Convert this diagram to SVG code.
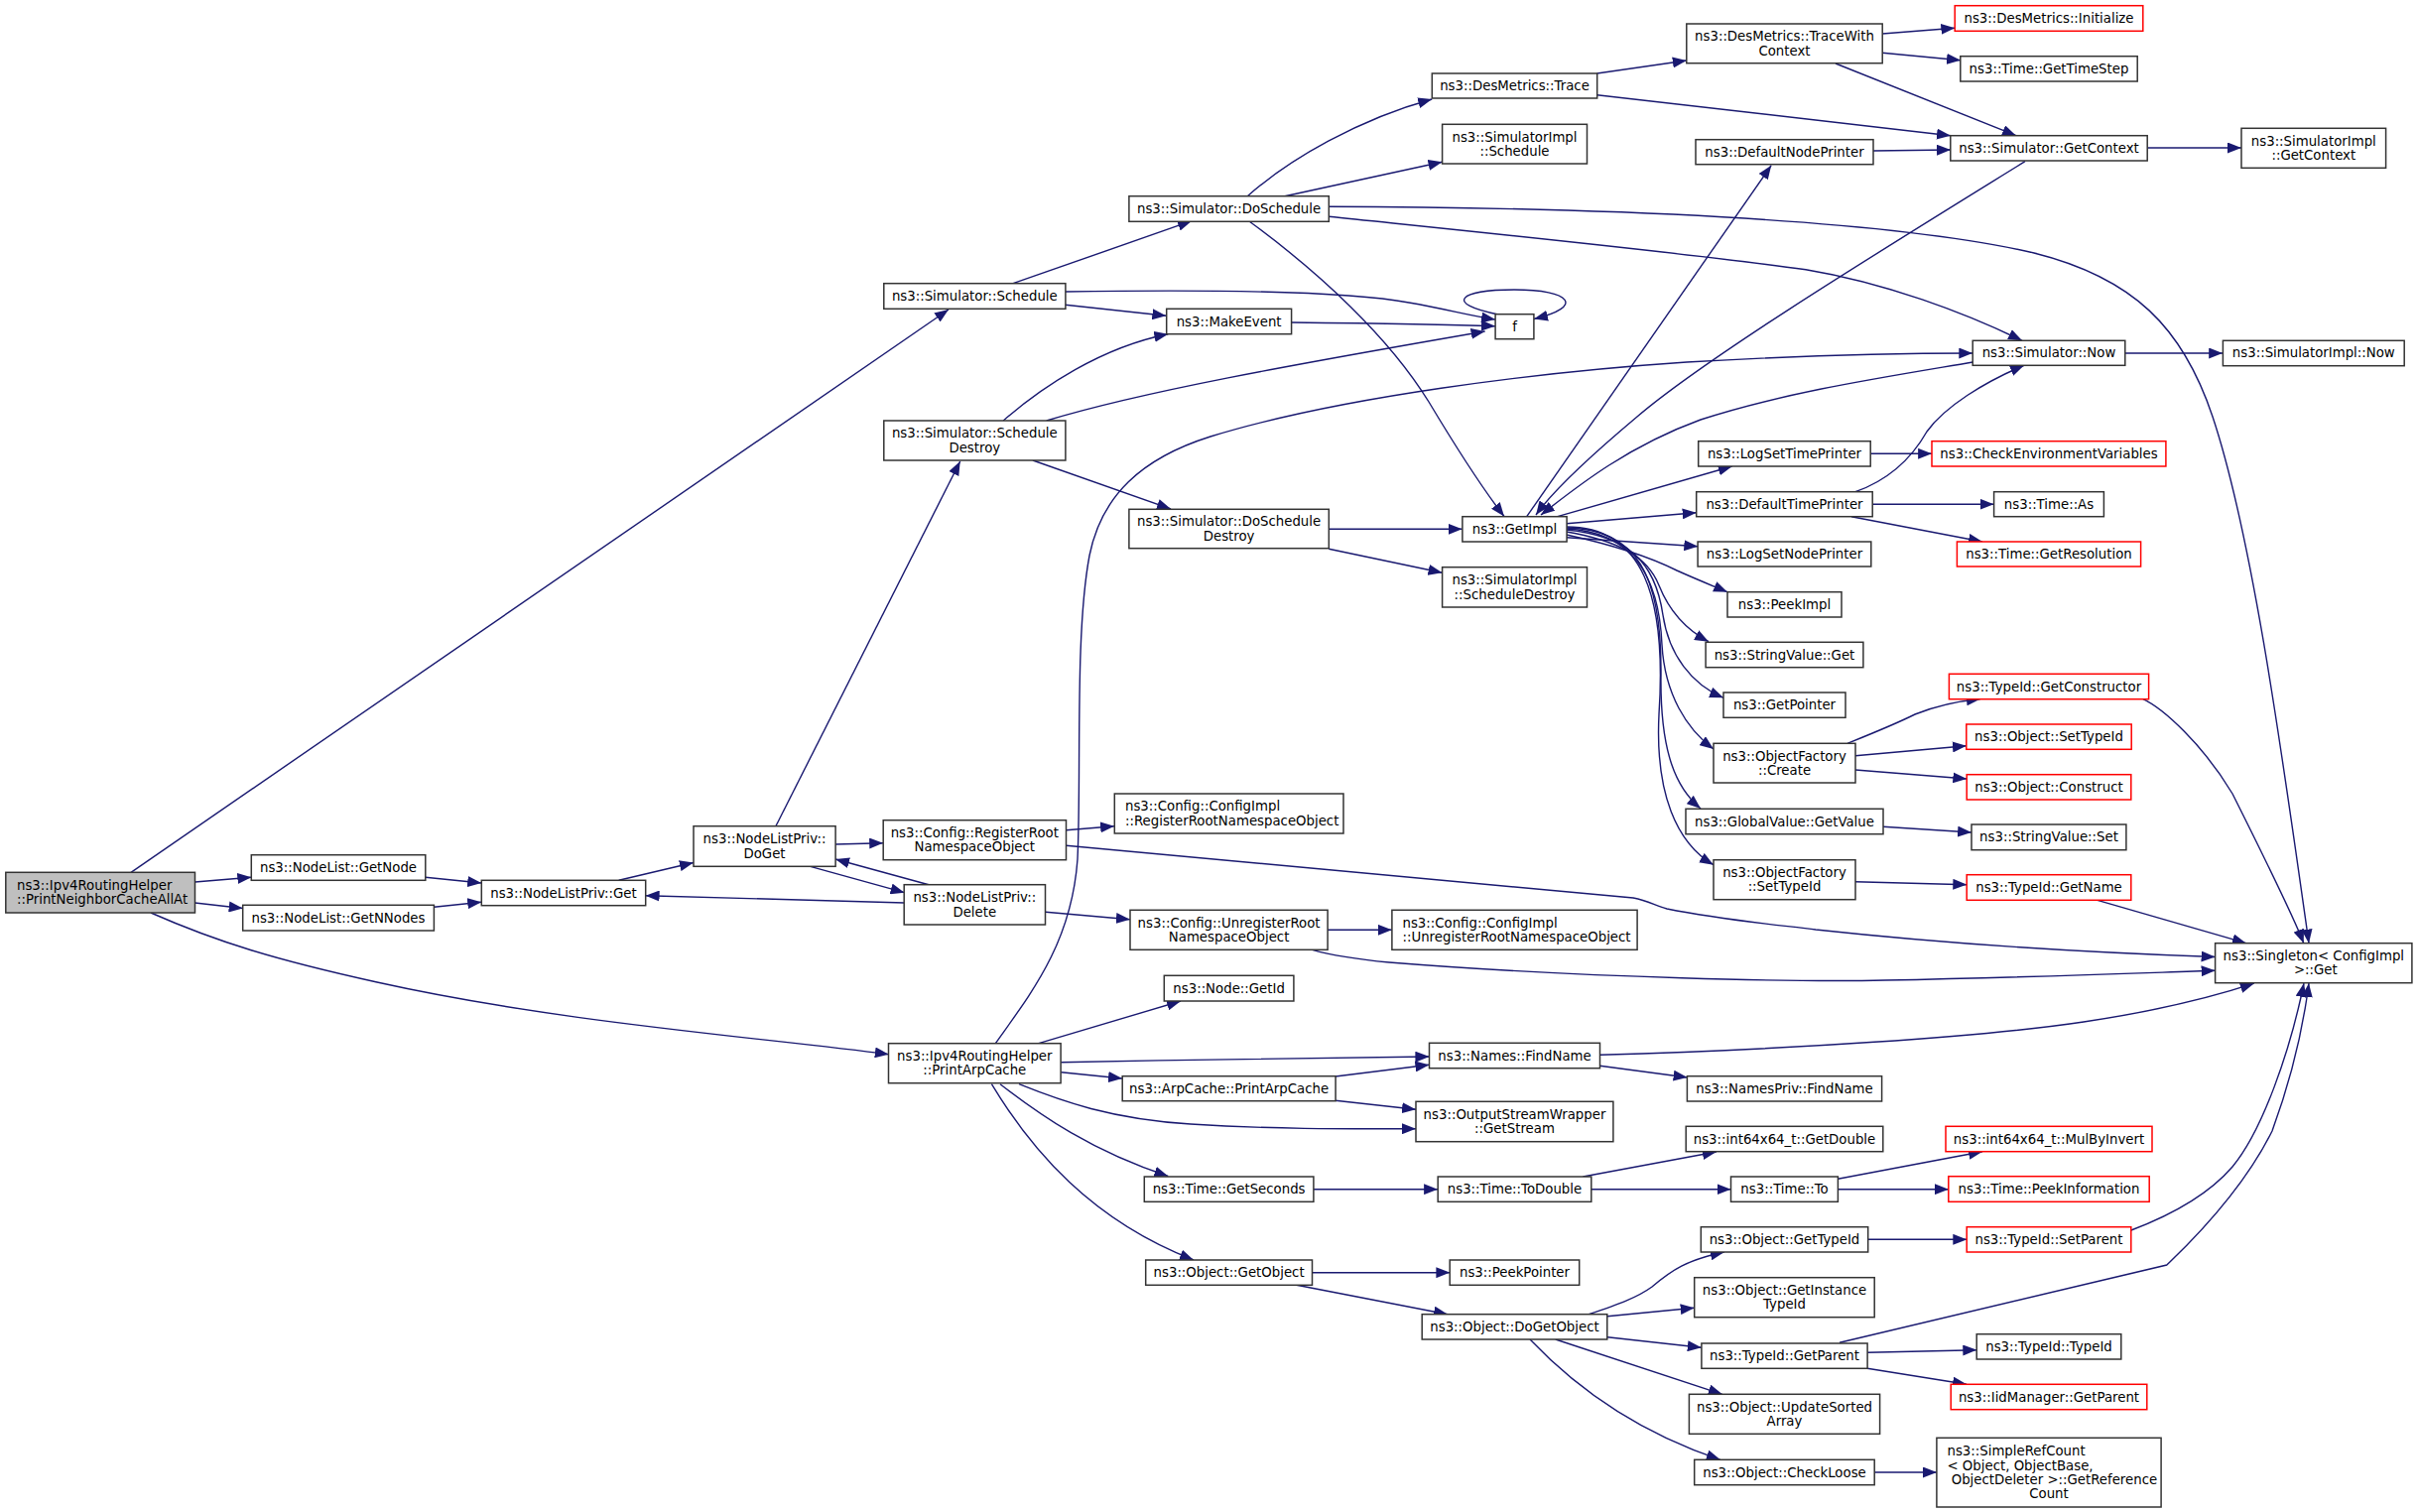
<svg xmlns="http://www.w3.org/2000/svg" width="2437" height="1524" viewBox="0 0 2437 1524">
<defs>
<marker id="a" markerUnits="userSpaceOnUse" viewBox="0 0 14 11" markerWidth="14" markerHeight="11" refX="14" refY="5.5" orient="auto">
<path d="M0,0 L14,5.5 L0,11 z" fill="#191970"/>
</marker>
<style>
rect{fill:#fff;stroke:#333;stroke-width:1.5}
.r rect{stroke:#f00}
.main rect{fill:#bfbfbf}
text{font-family:"DejaVu Sans",sans-serif;font-size:13.3px;fill:#000;text-anchor:middle}
text.l{text-anchor:start}
#edges path{fill:none;stroke:#191970;stroke-width:1.4;marker-end:url(#a)}
</style>
</defs>
<rect x="0" y="0" width="2437" height="1524" style="fill:#fff;stroke:none"/>
<g id="edges">
<path d="M132,879.3 L956,312"/>
<path d="M196.5,889 L253.3,884.3"/>
<path d="M196.5,910 L244.7,915.5"/>
<path d="M152,920 C220,950 280,968 380,990 C560,1030 760,1045 895.8,1062.7"/>
<path d="M428.8,884.3 L485.2,890"/>
<path d="M437.4,914.3 L485.2,909.3"/>
<path d="M623.7,887.3 L698.9,869.5"/>
<path d="M781.9,832.7 L967.7,465"/>
<path d="M842,851 L890.2,849.7"/>
<path d="M816.7,873.3 L911.6,899.7"/>
<path d="M936,891.7 L842,866"/>
<path d="M911.6,910 L650.6,902.7"/>
<path d="M1053.9,919.3 L1138.9,926.7"/>
<path d="M1074.5,836.7 L1123.1,832.7"/>
<path d="M1074.5,852.3 L1646,905 C1662,908 1668,913 1680,916 C1740,928 1800,933 1830,937 C1950,950 2100,960 2232.6,964.5"/>
<path d="M1338,937.3 L1402.8,937.3"/>
<path d="M1322.6,957.3 C1350,965 1380,968 1400,970 C1600,986 1820,990 1900,988 C2050,985 2150,981 2232.6,978.3"/>
<path d="M1003.3,1051.7 C1040,1000 1080,950 1086,866 C1090,780 1083,640 1098,560 C1110,500 1150,462 1220,440 C1350,400 1550,375 1700,365 C1820,358 1900,356 1988.3,356"/>
<path d="M1046.8,1051.7 L1190,1009"/>
<path d="M1069.4,1070.7 C1200,1068 1350,1066 1440.4,1065"/>
<path d="M1069.4,1080.7 L1131,1087"/>
<path d="M1027,1092.7 C1070,1110 1120,1128 1200,1133 C1280,1138 1350,1138 1427,1137.7"/>
<path d="M1008,1092.7 C1050,1125 1100,1160 1177.3,1185.5"/>
<path d="M999.4,1092.7 C1040,1160 1100,1230 1203,1270"/>
<path d="M1345.9,1085 L1440.4,1073.3"/>
<path d="M1345.9,1109.3 L1427,1118.3"/>
<path d="M1612.4,1074.3 L1700.6,1086"/>
<path d="M1612.4,1063.3 C1800,1058 2000,1045 2100,1030 C2180,1018 2230,1005 2271.8,991.2"/>
<path d="M1323.8,1198.7 L1449.1,1198.7"/>
<path d="M1595.4,1186 L1729.8,1161"/>
<path d="M1603.7,1198.7 L1744.5,1198.7"/>
<path d="M1852.4,1188.3 L1998,1160.7"/>
<path d="M1852.4,1198.7 L1963.9,1198.7"/>
<path d="M1322.6,1282.7 L1461.4,1282.7"/>
<path d="M1306.8,1295.3 L1459,1324.7"/>
<path d="M1601.3,1324.7 C1630,1315 1650,1308 1665,1297 C1685,1280 1700,1270 1737.8,1262"/>
<path d="M1620,1326.7 L1707.7,1318.3"/>
<path d="M1620,1347.7 L1714.8,1358.3"/>
<path d="M1567.7,1350 L1735.8,1405.3"/>
<path d="M1542,1350 C1580,1390 1640,1440 1733.8,1471.3"/>
<path d="M1882.8,1249.3 L1982.3,1249.3"/>
<path d="M2147.9,1240 C2185,1226 2225,1205 2250,1176 C2280,1140 2308,1060 2322,991"/>
<path d="M1854,1353.3 L2183.8,1275 C2210,1250 2260,1200 2290,1140 C2312,1080 2322,1030 2327,991"/>
<path d="M1882,1363.3 L1992.3,1360.7"/>
<path d="M1882,1379.3 L1982,1395.3"/>
<path d="M1889.2,1484 L1952,1484"/>
<path d="M1021,285.7 L1201,222.7"/>
<path d="M1073.7,294 C1200,292 1350,292 1420,305 C1460,312 1480,318 1507,322"/>
<path d="M1073.7,307.3 L1175.3,318.3"/>
<path d="M1301.2,325 C1400,326 1460,327 1507,328.7"/>
<path d="M1510,317 C1455,306 1470,292 1526.5,292 C1583,292 1598,309 1546,321.5"/>
<path d="M1011.2,424 C1050,390 1110,350 1177.3,336.7"/>
<path d="M1054.7,424 C1150,395 1300,368 1496.6,334"/>
<path d="M1040.9,464 L1180,513"/>
<path d="M1257.3,197.7 C1300,160 1370,120 1443.2,100"/>
<path d="M1294.9,197.7 L1453.5,163.3"/>
<path d="M1339.2,208.3 C1600,209 1900,220 2050,255 C2150,280 2200,330 2230,420 C2270,540 2300,760 2327,950.7"/>
<path d="M1339.2,218.3 C1500,235 1700,255 1820,271.7 C1900,285 1980,315 2038,343.3"/>
<path d="M1259.3,223.3 C1330,275 1400,340 1440,405 C1470,455 1500,500 1516,520.5"/>
<path d="M1609.6,74 L1699.8,61"/>
<path d="M1609.6,95.7 L1966,136.7"/>
<path d="M1897.2,34 L1970.3,28.3"/>
<path d="M1897.2,53.3 L1976,60.7"/>
<path d="M1850,64 L2032,136.7"/>
<path d="M1888,152 L1966,151"/>
<path d="M2164.3,149 L2259,149"/>
<path d="M2041,162.7 C1900,250 1720,360 1650,420 C1600,462 1565,495 1548,519"/>
<path d="M1988.3,365 C1900,380 1800,395 1714,423 C1640,450 1590,490 1553,519"/>
<path d="M1538.7,520.7 L1785.2,166.7"/>
<path d="M1569.7,520.7 L1745.7,470"/>
<path d="M1578.8,527.7 L1709.7,516.7"/>
<path d="M1578.8,541.7 L1711.3,550.7"/>
<path d="M1578.8,539 C1620,548 1660,560 1690,575 C1710,584 1725,590 1741,596.7"/>
<path d="M1578.8,536 C1630,545 1660,560 1672,590 C1682,615 1700,635 1722,646.7"/>
<path d="M1578.8,534 C1640,540 1668,565 1676,620 C1682,660 1705,690 1737,703.3"/>
<path d="M1578.8,533 C1645,536 1672,580 1675,650 C1678,700 1700,735 1727,755"/>
<path d="M1578.8,532 C1650,533 1675,580 1674,680 C1673,760 1690,795 1714,815"/>
<path d="M1578.8,531 C1655,531 1680,600 1672,720 C1668,800 1690,850 1727,871.7"/>
<path d="M1339.2,533.3 L1473.6,533.3"/>
<path d="M1339.2,553.3 L1453.5,577.3"/>
<path d="M2141.9,356 L2240.2,356"/>
<path d="M1885.2,457.3 L1947.1,457.3"/>
<path d="M1870,495.7 C1900,485 1925,465 1942,435 C1960,410 2000,385 2040,368.3"/>
<path d="M1887.2,508.2 L2009.5,508.2"/>
<path d="M1866,520.7 L1998,546"/>
<path d="M1862,749.3 C1890,738 1910,730 1930,720 C1950,712 1970,707 1996,704.5"/>
<path d="M1870,761.7 L1981.9,751.7"/>
<path d="M1870,776 L1982.3,785"/>
<path d="M2159.9,704.7 C2180,714 2220,750 2250,800 C2280,860 2310,920 2321.8,950.7"/>
<path d="M1898,833.3 L1987.1,839"/>
<path d="M1870,888.7 L1982.3,891.7"/>
<path d="M2113.9,907.3 L2263.8,950.7"/>
</g>
<g id="n_main" class="main"><rect x="5.8" y="879.3" width="190.7" height="40.7"/><text class="l" x="17" y="897">ns3::Ipv4RoutingHelper</text><text class="l" x="17" y="911.3">::PrintNeighborCacheAllAt</text></g>
<g id="n_getnode"><rect x="253.3" y="861.7" width="175.5" height="25.6"/><text x="341" y="879">ns3::NodeList::GetNode</text></g>
<g id="n_getnnodes"><rect x="244.7" y="912.3" width="192.7" height="25.7"/><text x="341" y="929.6">ns3::NodeList::GetNNodes</text></g>
<g id="n_nlpget"><rect x="485.3" y="887.3" width="165.4" height="25.4"/><text x="568" y="904.5">ns3::NodeListPriv::Get</text></g>
<g id="n_doget"><rect x="699" y="832.7" width="143.1" height="40.6"/><text x="770.5" y="850.4">ns3::NodeListPriv::</text><text x="770.5" y="864.7">DoGet</text></g>
<g id="n_schedule"><rect x="890.8" y="285.7" width="183.1" height="25.6"/><text x="982.3" y="303">ns3::Simulator::Schedule</text></g>
<g id="n_scheddestroy"><rect x="890.8" y="424" width="183.1" height="40"/><text x="982.3" y="441.4">ns3::Simulator::Schedule</text><text x="982.3" y="455.7">Destroy</text></g>
<g id="n_regroot"><rect x="890.2" y="826.7" width="184.3" height="40"/><text x="982.3" y="844.1">ns3::Config::RegisterRoot</text><text x="982.3" y="858.4">NamespaceObject</text></g>
<g id="n_delete"><rect x="911.2" y="891.7" width="142.3" height="40.3"/><text x="982.3" y="909.2">ns3::NodeListPriv::</text><text x="982.3" y="923.5">Delete</text></g>
<g id="n_printarp"><rect x="895.5" y="1051.7" width="173.6" height="40"/><text x="982.3" y="1069.1">ns3::Ipv4RoutingHelper</text><text x="982.3" y="1083.4">::PrintArpCache</text></g>
<g id="n_doschedule"><rect x="1137.9" y="197.7" width="201.4" height="25.6"/><text x="1238.6" y="215">ns3::Simulator::DoSchedule</text></g>
<g id="n_makeevent"><rect x="1175.7" y="311.3" width="125.9" height="25.4"/><text x="1238.6" y="328.5">ns3::MakeEvent</text></g>
<g id="n_doscheddestroy"><rect x="1137.9" y="513.3" width="201.4" height="39.4"/><text x="1238.6" y="530.4">ns3::Simulator::DoSchedule</text><text x="1238.6" y="544.7">Destroy</text></g>
<g id="n_cfgregister"><rect x="1123.3" y="800" width="230.7" height="40"/><text class="l" x="1134" y="817.4">ns3::Config::ConfigImpl</text><text class="l" x="1134" y="831.7">::RegisterRootNamespaceObject</text></g>
<g id="n_unregroot"><rect x="1139" y="917.3" width="199.1" height="40"/><text x="1238.6" y="934.7">ns3::Config::UnregisterRoot</text><text x="1238.6" y="949">NamespaceObject</text></g>
<g id="n_nodegetid"><rect x="1173.3" y="983.3" width="130.6" height="25.7"/><text x="1238.6" y="1000.7">ns3::Node::GetId</text></g>
<g id="n_arpcache"><rect x="1131.2" y="1084.7" width="214.9" height="25"/><text x="1238.6" y="1101.7">ns3::ArpCache::PrintArpCache</text></g>
<g id="n_getseconds"><rect x="1153.3" y="1186" width="170.6" height="25.3"/><text x="1238.6" y="1203.2">ns3::Time::GetSeconds</text></g>
<g id="n_getobject"><rect x="1154.7" y="1270" width="167.8" height="25.3"/><text x="1238.6" y="1287.2">ns3::Object::GetObject</text></g>
<g id="n_trace"><rect x="1443.3" y="74" width="166.4" height="25"/><text x="1526.5" y="91">ns3::DesMetrics::Trace</text></g>
<g id="n_simimplschedule"><rect x="1453.6" y="125.3" width="145.9" height="39.7"/><text x="1526.5" y="142.5">ns3::SimulatorImpl</text><text x="1526.5" y="156.8">::Schedule</text></g>
<g id="n_f"><rect x="1507.1" y="316.7" width="38.8" height="25"/><text x="1526.5" y="333.7">f</text></g>
<g id="n_getimpl"><rect x="1473.9" y="520.7" width="105.2" height="25.3"/><text x="1526.5" y="537.9">ns3::GetImpl</text></g>
<g id="n_simimplscheddestroy"><rect x="1453.6" y="571.7" width="145.9" height="40.3"/><text x="1526.5" y="589.2">ns3::SimulatorImpl</text><text x="1526.5" y="603.5">::ScheduleDestroy</text></g>
<g id="n_cfgunregister"><rect x="1402.9" y="917.3" width="247.2" height="40"/><text class="l" x="1413.5" y="934.7">ns3::Config::ConfigImpl</text><text class="l" x="1413.5" y="949">::UnregisterRootNamespaceObject</text></g>
<g id="n_findname"><rect x="1440.5" y="1051.3" width="172" height="25.4"/><text x="1526.5" y="1068.5">ns3::Names::FindName</text></g>
<g id="n_getstream"><rect x="1427" y="1110.3" width="198.9" height="40.4"/><text x="1526.5" y="1127.9">ns3::OutputStreamWrapper</text><text x="1526.5" y="1142.2">::GetStream</text></g>
<g id="n_todouble"><rect x="1449.2" y="1186" width="154.6" height="25.3"/><text x="1526.5" y="1203.2">ns3::Time::ToDouble</text></g>
<g id="n_peekpointer"><rect x="1461.2" y="1270" width="130.5" height="25.3"/><text x="1526.5" y="1287.2">ns3::PeekPointer</text></g>
<g id="n_dogetobject"><rect x="1433.2" y="1324.7" width="186.6" height="25.3"/><text x="1526.5" y="1341.9">ns3::Object::DoGetObject</text></g>
<g id="n_tracewithcontext"><rect x="1699.8" y="24" width="197.4" height="39.7"/><text x="1798.5" y="41.2">ns3::DesMetrics::TraceWith</text><text x="1798.5" y="55.5">Context</text></g>
<g id="n_defnodeprinter"><rect x="1709" y="140.7" width="179" height="25"/><text x="1798.5" y="157.7">ns3::DefaultNodePrinter</text></g>
<g id="n_logsettimeprinter"><rect x="1711.7" y="444.7" width="173.5" height="25.3"/><text x="1798.5" y="461.9">ns3::LogSetTimePrinter</text></g>
<g id="n_deftimeprinter"><rect x="1709.7" y="495.7" width="177.5" height="25"/><text x="1798.5" y="512.7">ns3::DefaultTimePrinter</text></g>
<g id="n_logsetnodeprinter"><rect x="1711.1" y="546" width="174.7" height="25"/><text x="1798.5" y="563">ns3::LogSetNodePrinter</text></g>
<g id="n_peekimpl"><rect x="1741" y="596.7" width="115" height="25.3"/><text x="1798.5" y="613.9">ns3::PeekImpl</text></g>
<g id="n_stringvalueget"><rect x="1719.1" y="647.3" width="158.8" height="25.4"/><text x="1798.5" y="664.5">ns3::StringValue::Get</text></g>
<g id="n_getpointer"><rect x="1737" y="698" width="123" height="25.3"/><text x="1798.5" y="715.2">ns3::GetPointer</text></g>
<g id="n_ofcreate"><rect x="1727" y="749.3" width="143" height="39.7"/><text x="1798.5" y="766.5">ns3::ObjectFactory</text><text x="1798.5" y="780.8">::Create</text></g>
<g id="n_globalvalue"><rect x="1699" y="815.3" width="199" height="25.4"/><text x="1798.5" y="832.5">ns3::GlobalValue::GetValue</text></g>
<g id="n_ofsettypeid"><rect x="1727" y="866.7" width="143" height="40"/><text x="1798.5" y="884.1">ns3::ObjectFactory</text><text x="1798.5" y="898.4">::SetTypeId</text></g>
<g id="n_namesprivfindname"><rect x="1700.4" y="1084.7" width="196.2" height="25.3"/><text x="1798.5" y="1101.9">ns3::NamesPriv::FindName</text></g>
<g id="n_getdouble"><rect x="1699.2" y="1135.3" width="198.6" height="25.4"/><text x="1798.5" y="1152.5">ns3::int64x64_t::GetDouble</text></g>
<g id="n_timeto"><rect x="1744.5" y="1186" width="107.9" height="25.3"/><text x="1798.5" y="1203.2">ns3::Time::To</text></g>
<g id="n_objgettypeid"><rect x="1714.3" y="1236.7" width="168.4" height="25.3"/><text x="1798.5" y="1253.9">ns3::Object::GetTypeId</text></g>
<g id="n_getinstancetypeid"><rect x="1707.7" y="1287.7" width="181.5" height="40"/><text x="1798.5" y="1305.1">ns3::Object::GetInstance</text><text x="1798.5" y="1319.4">TypeId</text></g>
<g id="n_typeidgetparent"><rect x="1714.9" y="1354" width="167.2" height="25.3"/><text x="1798.5" y="1371.2">ns3::TypeId::GetParent</text></g>
<g id="n_updatesorted"><rect x="1702.4" y="1405.3" width="192.2" height="40"/><text x="1798.5" y="1422.7">ns3::Object::UpdateSorted</text><text x="1798.5" y="1437">Array</text></g>
<g id="n_checkloose"><rect x="1707.7" y="1471.3" width="181.5" height="25.4"/><text x="1798.5" y="1488.5">ns3::Object::CheckLoose</text></g>
<g id="n_initialize" class="r"><rect x="1970.2" y="5.7" width="189.6" height="25.6"/><text x="2065" y="23">ns3::DesMetrics::Initialize</text></g>
<g id="n_gettimestep"><rect x="1975.8" y="56.7" width="178.4" height="25.3"/><text x="2065" y="73.9">ns3::Time::GetTimeStep</text></g>
<g id="n_getcontext"><rect x="1965.8" y="136.7" width="198.4" height="25.3"/><text x="2065" y="153.9">ns3::Simulator::GetContext</text></g>
<g id="n_now"><rect x="1988.2" y="343.3" width="153.6" height="25"/><text x="2065" y="360.3">ns3::Simulator::Now</text></g>
<g id="n_checkenv" class="r"><rect x="1947" y="444.7" width="235.9" height="25.3"/><text x="2065" y="461.9">ns3::CheckEnvironmentVariables</text></g>
<g id="n_timeas"><rect x="2009.6" y="495.7" width="110.8" height="25"/><text x="2065" y="512.7">ns3::Time::As</text></g>
<g id="n_getresolution" class="r"><rect x="1972.4" y="546" width="185.2" height="25"/><text x="2065" y="563">ns3::Time::GetResolution</text></g>
<g id="n_getconstructor" class="r"><rect x="1964.4" y="679.3" width="201.2" height="25.4"/><text x="2065" y="696.5">ns3::TypeId::GetConstructor</text></g>
<g id="n_objsettypeid" class="r"><rect x="1981.8" y="730" width="166.4" height="25.3"/><text x="2065" y="747.2">ns3::Object::SetTypeId</text></g>
<g id="n_construct" class="r"><rect x="1982.2" y="780.7" width="165.6" height="25.3"/><text x="2065" y="797.9">ns3::Object::Construct</text></g>
<g id="n_stringvalueset"><rect x="1987" y="831" width="155.9" height="25.7"/><text x="2065" y="848.4">ns3::StringValue::Set</text></g>
<g id="n_getname" class="r"><rect x="1982.2" y="881.7" width="165.6" height="25.6"/><text x="2065" y="899">ns3::TypeId::GetName</text></g>
<g id="n_mulbyinvert" class="r"><rect x="1961" y="1135.3" width="208" height="25.4"/><text x="2065" y="1152.5">ns3::int64x64_t::MulByInvert</text></g>
<g id="n_peekinfo" class="r"><rect x="1963.8" y="1185.7" width="202.4" height="25.6"/><text x="2065" y="1203.2">ns3::Time::PeekInformation</text></g>
<g id="n_setparent" class="r"><rect x="1982.2" y="1236.7" width="165.6" height="25.3"/><text x="2065" y="1253.9">ns3::TypeId::SetParent</text></g>
<g id="n_typeidtypeid"><rect x="1992.2" y="1344.7" width="145.6" height="25.3"/><text x="2065" y="1361.9">ns3::TypeId::TypeId</text></g>
<g id="n_iidgetparent" class="r"><rect x="1966.2" y="1395.3" width="197.6" height="25.4"/><text x="2065" y="1412.5">ns3::IidManager::GetParent</text></g>
<g id="n_simplerefcount"><rect x="1951.9" y="1449.3" width="226.2" height="69.7"/><text class="l" x="1962.5" y="1467.2">ns3::SimpleRefCount</text><text class="l" x="1962.5" y="1481.5">&lt; Object, ObjectBase,</text><text class="l" x="1966.7" y="1495.8">ObjectDeleter &gt;::GetReference</text><text x="2065" y="1510.1">Count</text></g>
<g id="n_simimplgetcontext"><rect x="2259" y="129.3" width="145.6" height="40"/><text x="2331.8" y="146.7">ns3::SimulatorImpl</text><text x="2331.8" y="161">::GetContext</text></g>
<g id="n_simimplnow"><rect x="2240.4" y="343.3" width="182.8" height="25.4"/><text x="2331.8" y="360.3">ns3::SimulatorImpl::Now</text></g>
<g id="n_singleton"><rect x="2232.6" y="950.7" width="198.3" height="40"/><text x="2331.8" y="968.1">ns3::Singleton&lt; ConfigImpl</text><text x="2333.8" y="982.4">&gt;::Get</text></g>
</svg>
